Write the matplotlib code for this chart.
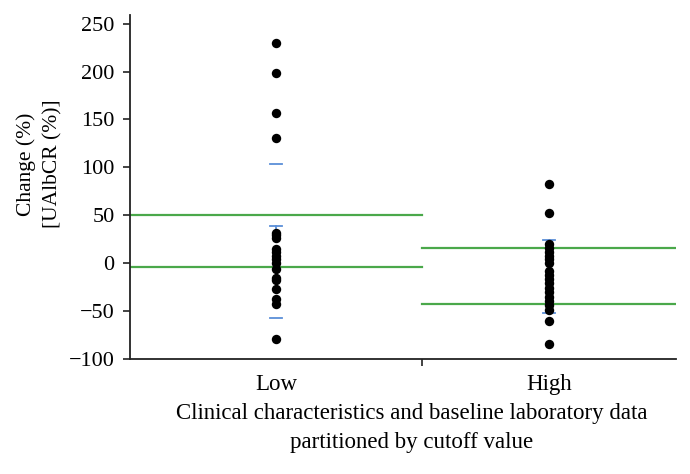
import matplotlib
matplotlib.use("Agg")
import matplotlib.pyplot as plt

categories = ["Low", "High"]
low_values = [230, 198, 157, 131, 32, 29, 26, 15, 12, 8, 4, 0, -6, -15, -18, -27, -37, -43, -79]
high_values = [83, 52, 20, 16, 12, 7, 4, 0, -8, -12, -17, -21, -26, -30, -35, -39, -44, -49, -60, -84]
green_lines = {"Low": [50, -4], "High": [15.5, -43]}
blue_marks = {"Low": [104, 39, -57], "High": [24, -52]}
yticks = [-100, -50, 0, 50, 100, 150, 200, 250]

plt.rcParams['font.family'] = ['Liberation Serif', 'DejaVu Serif']
plt.rcParams['font.size'] = 16

fig = plt.figure(figsize=(6.9, 4.74), dpi=100)
ax = fig.add_axes([130/690, 1-359/474, (676-130)/690, (359-15)/474])

xpos = [0, 1]
xl = (-0.535, 1.465)
boundary = 0.535
ax.set_xlim(*xl)
ax.set_ylim(-100, 259)

spans = {"Low": (xl[0], boundary), "High": (boundary, xl[1])}
for cat in categories:
    a, b = spans[cat]
    for v in green_lines[cat]:
        ax.plot([a, b], [v, v], color="#4aa84a", lw=1.6, zorder=2)

for x, vals in zip(xpos, [low_values, high_values]):
    ax.scatter([x]*len(vals), vals, s=46, color="black", zorder=4, linewidths=0)

hw = 0.022
for x, cat in zip(xpos, categories):
    for v in blue_marks[cat]:
        ax.plot([x-hw, x+hw], [v, v], color="#5b8fd8", lw=1.3, zorder=3)
ax.plot([0, 0], [blue_marks["Low"][1], blue_marks["Low"][1]-8], color="#5b8fd8", lw=1.3, zorder=3)

ax.spines['top'].set_visible(False)
ax.spines['right'].set_visible(False)
for s in ['left', 'bottom']:
    ax.spines[s].set_linewidth(1.3)
    ax.spines[s].set_color("#222222")

ax.set_yticks(yticks)
ax.set_yticklabels([str(t).replace('-', '\u2212') for t in yticks])
ax.set_xticks([boundary])
ax.set_xticklabels([""])
ax.tick_params(axis='both', direction='out', length=5, width=1.2, color="#222222", pad=6)
for x, cat in zip(xpos, categories):
    ax.text(x, -100 - 15/0.957, cat, ha='center', va='top', fontsize=16.5,
            transform=ax.transData, clip_on=False)

fig.text(412/690, 1-403/474, "Clinical characteristics and baseline laboratory data\npartitioned by cutoff value",
         ha='center', va='top', fontsize=16.5, linespacing=1.5)
fig.text(39/690, 1-164/474, "Change (%)\n[UAlbCR (%)]", ha='center', va='center',
         rotation=90, fontsize=15.5, linespacing=1.5)

fig.savefig("out.png", dpi=100)
